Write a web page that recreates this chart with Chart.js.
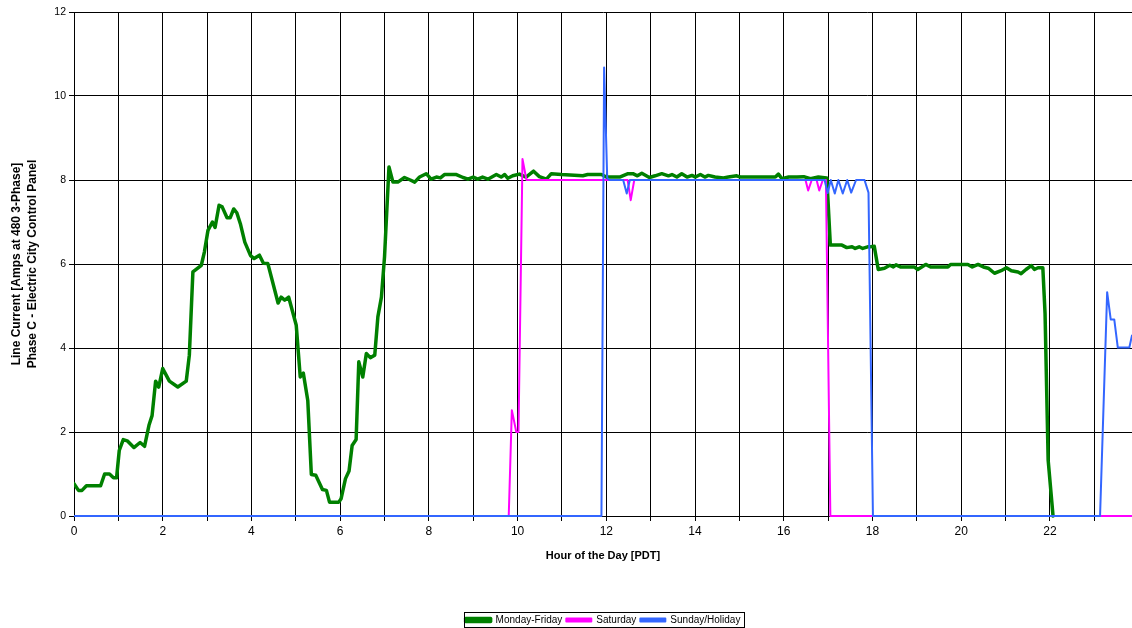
<!DOCTYPE html>
<html><head><meta charset="utf-8">
<script src="https://cdn.jsdelivr.net/npm/chart.js@4/dist/chart.umd.min.js"></script>
<style>html,body{margin:0;padding:0;background:#fff;overflow:hidden}#wrap{width:1132px;height:628px}</style>
</head><body><div id="wrap"><canvas id="c" width="1132" height="628"></canvas></div>
<script>
// ---- data (hour of day, amps) ----
const seriesNames = ['Monday-Friday', 'Saturday', 'Sunday/Holiday'];

const weekdayHours = [0.00,0.10,0.18,0.28,0.60,0.69,0.80,0.89,0.96,1.02,1.11,1.20,1.35,1.49,1.59,1.69,1.76,1.84,1.91,2.00,2.15,2.34,2.53,2.60,2.68,2.87,2.94,3.02,3.12,3.18,3.27,3.34,3.45,3.52,3.60,3.67,3.75,3.85,3.98,4.06,4.18,4.27,4.37,4.60,4.67,4.75,4.84,5.01,5.10,5.17,5.27,5.35,5.45,5.60,5.69,5.76,5.97,6.02,6.12,6.20,6.27,6.36,6.42,6.51,6.59,6.68,6.78,6.85,6.93,7.00,7.10,7.19,7.30,7.45,7.58,7.68,7.79,7.94,8.05,8.17,8.26,8.35,8.62,8.77,8.88,9.00,9.10,9.21,9.33,9.52,9.63,9.71,9.78,9.89,10.04,10.19,10.36,10.49,10.65,10.76,10.99,11.47,11.58,11.89,12.00,12.30,12.49,12.60,12.70,12.80,12.97,13.10,13.25,13.40,13.48,13.59,13.70,13.82,13.93,14.01,14.12,14.22,14.30,14.45,14.64,14.75,14.94,15.02,15.81,15.88,15.96,16.11,16.30,16.45,16.60,16.78,16.97,17.05,17.31,17.42,17.54,17.61,17.70,17.78,17.89,17.96,18.04,18.13,18.27,18.39,18.47,18.53,18.63,18.94,19.02,19.20,19.31,19.70,19.76,20.15,20.25,20.38,20.50,20.61,20.75,20.90,21.02,21.13,21.28,21.35,21.46,21.58,21.65,21.73,21.84,21.89,21.96,22.07];
const weekdayAmps  = [0.77,0.61,0.61,0.72,0.72,1.00,1.00,0.91,0.91,1.56,1.82,1.79,1.63,1.75,1.66,2.16,2.39,3.21,3.07,3.51,3.21,3.07,3.21,3.83,5.81,5.97,6.29,6.80,7.00,6.87,7.40,7.36,7.10,7.10,7.31,7.22,6.96,6.52,6.20,6.13,6.21,6.02,6.01,5.07,5.21,5.14,5.21,4.54,3.31,3.40,2.75,0.99,0.97,0.63,0.61,0.33,0.33,0.41,0.89,1.07,1.68,1.82,3.67,3.31,3.87,3.77,3.83,4.74,5.21,6.17,8.31,7.95,7.95,8.06,8.00,7.95,8.07,8.15,8.02,8.07,8.05,8.13,8.13,8.06,8.02,8.07,8.02,8.07,8.02,8.13,8.07,8.13,8.04,8.10,8.14,8.07,8.21,8.08,8.02,8.15,8.13,8.10,8.13,8.13,8.07,8.07,8.15,8.15,8.10,8.16,8.06,8.10,8.15,8.10,8.13,8.07,8.15,8.07,8.11,8.07,8.13,8.07,8.11,8.07,8.05,8.07,8.10,8.07,8.07,8.14,8.03,8.07,8.07,8.08,8.03,8.07,8.05,6.45,6.45,6.39,6.41,6.37,6.41,6.37,6.41,6.41,6.42,5.87,5.90,5.97,5.93,5.98,5.93,5.93,5.87,5.99,5.93,5.93,5.99,5.99,5.93,5.99,5.93,5.90,5.78,5.84,5.91,5.84,5.81,5.77,5.87,5.96,5.87,5.91,5.91,4.82,1.33,0.00];

const saturdayHours = [0.00,9.80,9.87,9.97,10.02,10.11,10.20,12.48,12.55,12.63,16.49,16.55,16.63,16.74,16.80,16.88,16.95,17.05,23.85];
const saturdayAmps  = [0.00,0.00,2.52,2.00,2.00,8.50,8.00,8.00,7.52,8.00,8.00,7.75,8.00,8.00,7.75,8.00,8.00,0.00,0.00];

const sundayHours = [0.00,11.89,11.95,12.02,12.07,12.38,12.46,12.53,16.92,16.99,17.06,17.15,17.23,17.33,17.43,17.52,17.63,17.82,17.91,18.01,23.13,23.29,23.37,23.45,23.53,23.79,23.85];
const sundayAmps  = [0.00,0.00,10.68,8.05,8.00,8.00,7.68,8.00,8.00,7.69,8.00,7.68,8.00,7.68,8.00,7.70,8.00,8.00,7.70,0.00,0.00,5.33,4.68,4.68,4.01,4.01,4.30];

const xTickHours = [0,1,2,3,4,5,6,7,8,9,10,11,12,13,14,15,16,17,18,19,20,21,22,23];
const xLabelHours = [0,2,4,6,8,10,12,14,16,18,20,22];
const yTickValues = [0,2,4,6,8,10,12];
const xMax = 23.85;

const toPoints = (hs, vs) => hs.map((h, i) => ({x: h, y: vs[i]}));

Chart.defaults.font.family = "'Liberation Sans', Arial, sans-serif";
Chart.defaults.color = '#000';

const LEGEND_H = 24;
const LINE_CLIP = {left: 0, top: 4, right: 0, bottom: 4};

const legendBorder = {
  id: 'legendBorder',
  afterDraw(chart) {
    const lg = chart.legend;
    if (!lg || !lg.legendHitBoxes || !lg.legendHitBoxes.length) return;
    const hb = lg.legendHitBoxes;
    let l = Infinity, t = Infinity, r = -Infinity, b = -Infinity;
    hb.forEach(h => { l = Math.min(l, h.left); t = Math.min(t, h.top); r = Math.max(r, h.left + h.width); b = Math.max(b, h.top + h.height); });
    const ctx = chart.ctx;
    ctx.save();
    ctx.strokeStyle = '#000';
    ctx.lineWidth = 1;
    ctx.strokeRect(Math.round(l - 2) + 0.5, Math.round(t - 3) + 0.5, Math.round(r - l + 5), Math.round(b - t + 5));
    ctx.restore();
  }
};

new Chart(document.getElementById('c'), {
  type: 'line',
  data: {
    datasets: [
      {label: seriesNames[2], data: toPoints(sundayHours, sundayAmps), borderColor: '#3366ff', backgroundColor: '#3366ff', borderWidth: 2, clip: LINE_CLIP},
      {label: seriesNames[1], data: toPoints(saturdayHours, saturdayAmps), borderColor: '#ff00ff', backgroundColor: '#ff00ff', borderWidth: 2, clip: LINE_CLIP},
      {label: seriesNames[0], data: toPoints(weekdayHours, weekdayAmps), borderColor: '#008000', backgroundColor: '#008000', borderWidth: 3.5, clip: LINE_CLIP}
    ]
  },
  options: {
    responsive: false,
    animation: false,
    devicePixelRatio: 1,
    elements: {point: {radius: 0}, line: {tension: 0, borderJoinStyle: 'round', borderCapStyle: 'round'}},
    layout: {padding: {top: 12, right: 0, bottom: -7, left: 0}},
    plugins: {
      tooltip: {enabled: false},
      legend: {
        position: 'bottom',
        fullSize: false,
        reverse: true,
        labels: {
          boxWidth: 25, boxHeight: 3, padding: 4,
          font: {size: 10}, color: '#000'
        }
      }
    },
    scales: {
      x: {
        type: 'linear', min: 0, max: xMax,
        afterBuildTicks: s => { s.ticks = xTickHours.map(v => ({value: v})); },
        afterFit: s => { s.height = s.chart.height + 7 - LEGEND_H - 516; },
        ticks: {
          autoSkip: false, maxRotation: 0, padding: 3,
          font: {size: 12}, color: '#000',
          callback: v => xLabelHours.includes(v) ? String(v) : ''
        },
        grid: {color: '#000', lineWidth: 1, tickLength: 5, drawTicks: true},
        border: {display: true, color: '#000'},
        title: {display: true, text: 'Hour of the Day [PDT]', font: {size: 11, weight: 'bold'}, color: '#000', padding: {top: 0, bottom: 48}}
      },
      y: {
        min: 0, max: 12,
        afterBuildTicks: s => { s.ticks = yTickValues.map(v => ({value: v})); },
        afterFit: s => { s.width = 74; },
        ticks: {font: {size: 10.5}, color: '#000', padding: 3},
        grid: {color: '#000', lineWidth: 1, tickLength: 5},
        border: {display: true, color: '#000'},
        title: {display: true, text: ['Line Current [Amps at 480 3-Phase]', 'Phase C - Electric City Control Panel'], font: {size: 12, weight: 'bold', lineHeight: 1.33}, color: '#000', padding: {top: 9, bottom: 0}}
      }
    }
  },
  plugins: [legendBorder]
});
</script></body></html>
